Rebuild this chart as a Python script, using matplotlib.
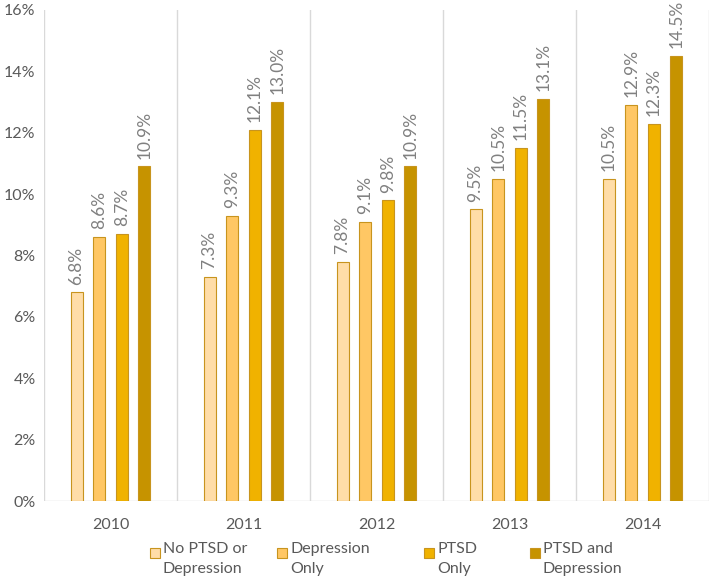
import matplotlib.pyplot as plt
import numpy as np
from matplotlib.patches import Rectangle
from matplotlib.ticker import FuncFormatter

plt.rcParams["font.family"] = ["Lato", "DejaVu Sans"]

years = ["2010", "2011", "2012", "2013", "2014"]
series_names = ["No PTSD or\nDepression", "Depression\nOnly", "PTSD\nOnly", "PTSD and\nDepression"]
no_ptsd_or_dep = [6.8, 7.3, 7.8, 9.5, 10.5]
depression_only = [8.6, 9.3, 9.1, 10.5, 12.9]
ptsd_only = [8.7, 12.1, 9.8, 11.5, 12.3]
ptsd_and_dep = [10.9, 13.0, 10.9, 13.1, 14.5]

colors = ["#FFDDA8", "#FFC764", "#F0B200", "#C69300"]
edge = "#C8941E"

fig = plt.figure(figsize=(7.09, 5.84), dpi=100)
ax = fig.add_axes([0.062, 0.142, 0.938, 0.841])

x = np.arange(len(years))
width = 0.09
pitch = 0.17
all_series = [no_ptsd_or_dep, depression_only, ptsd_only, ptsd_and_dep]
for i, (vals, name, c) in enumerate(zip(all_series, series_names, colors)):
    pos = x + (i - 1.5) * pitch
    ax.bar(pos, vals, width=width, color=c, edgecolor=edge, linewidth=0.8, label=name)
    for p, v in zip(pos, vals):
        ax.text(p, v + 0.25, f"{v:.1f}%", rotation=90, ha="center", va="bottom",
                fontsize=12.5, color="#808080")

ax.set_xlim(-0.5, len(years) - 0.5)
ax.set_ylim(0, 16)
ax.set_yticks(np.arange(0, 17, 2))
ax.yaxis.set_major_formatter(FuncFormatter(lambda v, _: f"{v:.0f}%"))
ax.set_xticks(x)
ax.set_xticklabels(years)
for b in np.arange(-0.5, len(years), 1.0):
    ax.axvline(b, color="#D9D9D9", linewidth=1, zorder=0)
for s in ax.spines.values():
    s.set_visible(False)
ax.axhline(0, color="#D9D9D9", linewidth=1, zorder=0)
ax.tick_params(axis="x", length=0, labelsize=11.5, colors="#595959", pad=12)
ax.tick_params(axis="y", length=0, labelsize=11.5, colors="#595959", pad=6)

# legend drawn by hand: square aligned with the first line of each label
legend_x = [150, 277, 424, 530]
W, H = 709, 584
for lx, name, c in zip(legend_x, series_names, colors):
    fig.patches.append(Rectangle((lx / W, 1 - 558 / H), 10 / W, 10 / H, transform=fig.transFigure,
                                 facecolor=c, edgecolor=edge, linewidth=0.8))
    fig.text((lx + 13) / W, 1 - 542 / H, name, ha="left", va="top", fontsize=11.5,
             color="#595959", linespacing=1.5)

fig.savefig("out.png", dpi=100)
